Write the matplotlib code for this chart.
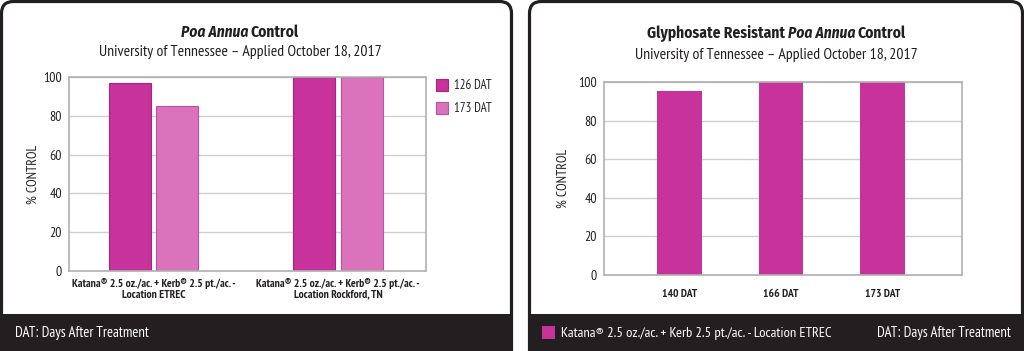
import matplotlib
matplotlib.use("Agg")
import matplotlib.pyplot as plt
from matplotlib.patches import FancyBboxPatch, Rectangle
import numpy as np

plt.rcParams['font.family'] = ['PT Sans Narrow', 'Sofia Sans Condensed', 'Asap Condensed', 'DejaVu Sans']
TITLE_FAMILY = ['Fira Sans Condensed', 'Asap Condensed', 'DejaVu Sans']

# ---------------- data ----------------
left_categories = ["Katana\u00ae 2.5 oz./ac. + Kerb\u00ae 2.5 pt./ac. -\nLocation ETREC",
                   "Katana\u00ae 2.5 oz./ac. + Kerb\u00ae 2.5 pt./ac. -\nLocation Rockford, TN"]
left_series_names = ["126 DAT", "173 DAT"]
left_126 = [97, 100]
left_173 = [85, 100]

right_categories = ["140 DAT", "166 DAT", "173 DAT"]
right_values = [95.5, 100, 100]
right_series_name = "Katana\u00ae 2.5 oz./ac. + Kerb 2.5 pt./ac. - Location ETREC"

yticks = [0, 20, 40, 60, 80, 100]
ylabel = "% CONTROL"
left_title = [("Poa Annua", "italic"), ("Control", "normal")]
right_title = [("Glyphosate Resistant", "normal"), ("Poa Annua", "italic"), ("Control", "normal")]
subtitle = "University of Tennessee \u2013 Applied October 18, 2017"
footer_note = "DAT: Days After Treatment"

# ---------------- style ----------------
C_DARK = "#C8329B"
C_DARK_EDGE = "#A8267F"
C_LIGHT = "#DB73BC"
C_LIGHT_EDGE = "#BF4FA0"
BLACK = "#231F20"
GRID = "#CFCFCF"
SPINE = "#B0B0B0"
TXT = "#231F20"

W, H = 1024, 351
fig = plt.figure(figsize=(W / 100, H / 100), dpi=100)
fig.patch.set_facecolor("white")

bg = fig.add_axes([0, 0, 1, 1])
bg.set_xlim(0, W)
bg.set_ylim(H, 0)
bg.axis("off")
renderer = fig.canvas.get_renderer()


def fit_size(s, target, weight="normal", style="normal", family=None, base=10.0):
    kw = {} if family is None else {"family": family}
    t = bg.text(0, 0, s, fontsize=base, fontweight=weight, fontstyle=style, **kw)
    w = t.get_window_extent(renderer).width
    t.remove()
    return base * target / w


# panels
for x0, x1 in [(1.5, 511.5), (529.5, 1022.5)]:
    p = FancyBboxPatch((x0 + 12, 1.5 + 12), (x1 - x0) - 24, 400, boxstyle="round,pad=12",
                       facecolor="white", edgecolor=BLACK, linewidth=2.3, zorder=0)
    bg.add_patch(p)
    bg.add_patch(Rectangle((x0 - 1.5, 314), (x1 - x0) + 3, 60, facecolor=BLACK,
                           edgecolor="none", zorder=1))


def mixed_title(cx, y, parts, size):
    texts = []
    for s, st in parts:
        t = bg.text(0, y, s, fontsize=size, fontweight="bold", fontstyle=st,
                    family=TITLE_FAMILY, color=TXT, ha="left", va="center")
        texts.append(t)
    gap = 0.25 * size
    widths = [t.get_window_extent(renderer).width for t in texts]
    total = sum(widths) + gap * (len(texts) - 1)
    x = cx - total / 2
    for t, w in zip(texts, widths):
        t.set_x(x)
        x += w + gap


title_size = fit_size("Glyphosate Resistant Poa Annua Control", 259, weight="bold",
                      family=TITLE_FAMILY)
sub_size = fit_size(subtitle, 285)
foot_size = fit_size(footer_note, 125) * 1.08
xl_size = fit_size("Katana\u00ae 2.5 oz./ac. + Kerb\u00ae 2.5 pt./ac. -", 164, weight="bold")
yl_size = fit_size(ylabel, 59)
leg_size = fit_size("126 DAT", 38)
leg2_size = fit_size(right_series_name, 262) * 1.03

mixed_title(240, 32, left_title, title_size)
mixed_title(776.5, 33, right_title, title_size)
bg.text(240, 52, subtitle, fontsize=sub_size, color=TXT, ha="center", va="center")
bg.text(776.5, 55, subtitle, fontsize=sub_size, color=TXT, ha="center", va="center")

# footers
bg.text(15, 333, footer_note, fontsize=foot_size, color="white", ha="left", va="center", zorder=3)
bg.text(1011, 333, footer_note, fontsize=foot_size, color="white", ha="right", va="center", zorder=3)


def style_axes(ax):
    ax.set_ylim(0, 100)
    ax.set_yticks(yticks)
    ax.grid(axis="y", color=GRID, linewidth=1)
    ax.set_axisbelow(True)
    for s in ax.spines.values():
        s.set_color(SPINE)
        s.set_linewidth(1.2)
    ax.tick_params(axis="both", length=0, colors=TXT)
    ax.tick_params(axis="y", pad=5, labelsize=yl_size)
    ax.set_ylabel(ylabel, fontsize=yl_size, color=TXT)


# left chart
axL = fig.add_axes([69 / W, 1 - 271 / H, 357 / W, 194 / H])
x = np.arange(len(left_categories))
bw = 0.228
off = 0.129
b1 = axL.bar(x - off, left_126, bw, color=C_DARK, edgecolor=C_DARK_EDGE, linewidth=0.8,
             label=left_series_names[0])
b2 = axL.bar(x + off, left_173, bw, color=C_LIGHT, edgecolor=C_LIGHT_EDGE, linewidth=0.8,
             label=left_series_names[1])
axL.set_xlim(-0.458, 1.477)
axL.set_xticks(x)
axL.set_xticklabels(left_categories, fontweight="bold", fontsize=xl_size, linespacing=1.1)
style_axes(axL)
axL.tick_params(axis="x", pad=5)
axL.yaxis.set_label_coords(-0.083, 0.5)
fig.legend(handles=[b1, b2], loc="upper left", bbox_to_anchor=(433 / W, 1 - 76 / H),
           frameon=False, fontsize=leg_size, handlelength=1.0, handleheight=1.1,
           handletextpad=0.4, labelspacing=0.75, borderaxespad=0, borderpad=0.2,
           labelcolor=TXT)

# right chart
axR = fig.add_axes([604 / W, 1 - 275 / H, 358 / W, 193 / H])
xr = np.arange(len(right_categories))
br = axR.bar(xr, right_values, 0.44, color=C_DARK, edgecolor="none",
             label=right_series_name)
axR.set_xlim(-0.744, 2.783)
axR.set_xticks(xr)
axR.set_xticklabels(right_categories, fontweight="bold", fontsize=xl_size)
style_axes(axR)
axR.tick_params(axis="x", pad=10)
axR.yaxis.set_label_coords(-0.095, 0.5)
fig.legend(handles=[br], loc="center left", bbox_to_anchor=(539 / W, 1 - 333 / H),
           frameon=False, fontsize=leg2_size, handlelength=0.9, handleheight=1.0,
           handletextpad=0.4, borderaxespad=0, borderpad=0.2, labelcolor="white")

fig.savefig("out.png", dpi=100, facecolor="white")
